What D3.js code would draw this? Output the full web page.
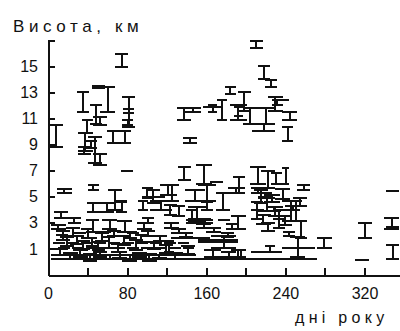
<!DOCTYPE html>
<html>
<head>
<meta charset="utf-8">
<script src="https://cdn.jsdelivr.net/npm/d3@7"></script>
<style>
  html, body { margin: 0; padding: 0; background: #fff; }
  svg { display: block; }
  text { font-family: "Liberation Sans", Arial, sans-serif; fill: #111; }
</style>
</head>
<body>
<div id="chart"></div>
<script>
// Cloud layers over the year: [day from, day to, base km, top km]
const highLayers = [
  [2, 15, 8.8, 10.5], [29, 41, 11.5, 13.0], [44, 58, 13.35, 13.45], [53, 68, 11.5, 13.4],
  [68, 81, 14.9, 15.9], [75, 88, 10.3, 12.6], [76, 87, 11.4, 11.7], [75, 86, 10.5, 10.9],
  [42, 55, 10.6, 12.0], [45, 60, 10.5, 11.1], [34, 45, 9.9, 10.9], [30, 45, 8.5, 9.9],
  [40, 55, 7.6, 9.6], [45, 60, 7.4, 8.3], [30, 43, 8.3, 8.8], [36, 50, 8.7, 9.3],
  [60, 72, 9.1, 10.0], [72, 84, 9.1, 10.0], [74, 86, 7.0, 7.0],
  [136, 151, 9.1, 9.5], [130, 145, 10.9, 11.8], [139, 155, 11.5, 11.8], [157, 175, 11.9, 11.9],
  [162, 171, 11.5, 12.0], [171, 181, 10.9, 12.4], [184, 201, 10.9, 12.0], [188, 197, 11.2, 11.9],
  [197, 212, 10.6, 11.8], [212, 228, 10.6, 11.8], [206, 230, 10.0, 10.6], [222, 238, 11.6, 12.6],
  [226, 238, 12.0, 12.4], [179, 190, 12.9, 13.4], [192, 205, 11.6, 13.0], [204, 217, 16.4, 16.9],
  [212, 224, 14.0, 15.0], [219, 232, 13.4, 13.9], [237, 252, 10.9, 11.5], [237, 244, 12.4, 12.4],
  [237, 248, 9.3, 10.3]
];

const midLayers = [
  [9, 24, 5.3, 5.6], [40, 52, 5.5, 5.9], [61, 75, 4.0, 5.5], [39, 52, 3.8, 4.5],
  [52, 67, 3.8, 4.5], [69, 80, 3.8, 4.7], [69, 80, 4.6, 4.7], [95, 106, 4.9, 5.7],
  [91, 101, 4.0, 4.7], [95, 118, 5.0, 5.0], [6, 20, 3.4, 3.8], [20, 33, 3.0, 3.4],
  [38, 52, 2.3, 3.2], [55, 70, 2.5, 3.2], [70, 85, 2.3, 3.1], [90, 105, 2.5, 3.0],
  [95, 107, 3.0, 3.4], [100, 113, 4.5, 5.5], [113, 130, 5.1, 5.9], [103, 125, 4.0, 4.7],
  [125, 139, 3.5, 4.3], [140, 152, 3.2, 4.0], [131, 145, 6.3, 7.3],
  [118, 132, 4.7, 5.9], [139, 159, 4.7, 5.5], [152, 170, 4.7, 5.9], [170, 184, 4.0, 5.3],
  [182, 199, 5.3, 5.7], [117, 130, 3.6, 4.4], [142, 160, 3.1, 4.2], [140, 167, 3.0, 3.2],
  [142, 165, 3.2, 3.3], [155, 167, 4.0, 4.6], [172, 184, 3.2, 3.2], [185, 200, 2.5, 3.5],
  [180, 192, 2.5, 2.9], [117, 132, 2.6, 3.0], [124, 140, 2.2, 2.5], [132, 147, 1.9, 2.2],
  [150, 166, 6.0, 7.4], [164, 177, 6.1, 6.1], [187, 199, 5.3, 6.5],
  [204, 220, 6.0, 7.3], [215, 230, 5.7, 7.0], [225, 237, 6.0, 6.8], [252, 265, 5.5, 5.9],
  [237, 244, 6.0, 7.2], [205, 220, 5.3, 5.7], [208, 222, 4.5, 5.5], [212, 230, 3.9, 4.9],
  [218, 235, 4.6, 5.1], [222, 238, 3.5, 4.2], [228, 240, 3.3, 4.0], [205, 218, 3.3, 4.0],
  [237, 254, 3.1, 4.7], [245, 257, 3.1, 4.7], [240, 255, 4.0, 4.3], [250, 262, 1.8, 3.1],
  [238, 250, 2.0, 2.3], [227, 240, 2.6, 3.3], [313, 328, 1.8, 3.0], [340, 355, 2.5, 3.4],
  [342, 355, 2.5, 2.7], [342, 355, 5.4, 5.4],
  [205, 217, 4.0, 4.6], [210, 225, 2.9, 3.6], [215, 230, 2.4, 3.0], [230, 245, 4.8, 5.6],
  [233, 247, 2.8, 3.5], [248, 262, 4.3, 4.9], [212, 226, 5.0, 5.3], [220, 236, 3.9, 4.2],
  [160, 175, 2.3, 2.6], [175, 188, 1.9, 2.2], [150, 165, 2.6, 2.9]
];

const lowLayers = [
  [3, 18, 2.5, 2.8], [8, 22, 1.7, 2.4], [12, 26, 1.2, 1.9], [18, 32, 2.0, 2.6],
  [22, 36, 1.4, 2.0], [28, 42, 1.0, 1.6], [33, 47, 1.8, 2.5], [38, 50, 1.2, 1.8],
  [44, 58, 0.9, 1.5], [48, 62, 1.6, 2.2], [55, 68, 1.1, 1.9], [60, 74, 2.0, 2.4],
  [64, 78, 0.8, 1.4], [70, 84, 1.3, 2.0], [76, 90, 1.8, 2.3], [82, 96, 0.9, 1.7],
  [88, 100, 1.5, 2.1], [94, 108, 2.0, 2.4], [100, 114, 1.0, 1.5], [106, 120, 1.6, 2.0],
  [112, 126, 0.7, 1.3], [5, 20, 0.5, 1.0], [15, 30, 0.2, 0.7], [25, 40, 0.4, 0.9],
  [35, 50, 0.1, 0.6], [45, 60, 0.4, 0.8], [55, 70, 0.2, 0.5], [65, 80, 0.3, 0.8],
  [75, 90, 0.1, 0.5], [85, 100, 0.4, 0.7], [95, 110, 0.1, 0.6], [105, 120, 0.3, 0.5],
  [120, 136, 0.2, 0.7], [3, 150, 0.5, 0.5], [3, 272, 0.2, 0.2],
  [5, 17, 1.45, 1.45], [19, 31, 1.45, 1.45], [33, 45, 1.45, 1.45], [47, 59, 1.45, 1.45],
  [61, 73, 1.45, 1.45], [75, 87, 1.45, 1.45], [89, 101, 1.45, 1.45], [103, 115, 1.45, 1.45],
  [117, 129, 1.45, 1.45], [131, 143, 1.45, 1.45],
  [10, 22, 1.05, 1.05], [24, 36, 1.05, 1.05], [38, 50, 1.05, 1.05], [52, 64, 1.05, 1.05],
  [66, 78, 1.05, 1.05], [80, 92, 1.05, 1.05], [94, 106, 1.05, 1.05], [108, 120, 1.05, 1.05],
  [122, 134, 1.05, 1.05], [136, 148, 1.05, 1.05],
  [8, 20, 2.1, 2.1], [26, 38, 2.2, 2.2], [52, 64, 2.3, 2.3], [80, 92, 2.2, 2.2],
  [117, 127, 0.8, 1.6], [134, 149, 0.6, 1.2], [124, 164, 1.8, 1.8], [165, 190, 1.1, 2.0],
  [152, 192, 1.5, 1.7], [158, 175, 0.4, 0.9], [175, 190, 0.4, 0.8], [190, 200, 0.4, 0.9],
  [185, 200, 0.4, 0.9], [205, 237, 0.8, 0.8], [219, 230, 0.8, 1.2], [245, 260, 0.4, 1.9],
  [237, 270, 1.1, 1.1], [272, 287, 1.1, 1.8], [310, 325, 0.15, 0.15], [342, 355, 0.2, 1.3]
];

const yTicks = [1, 3, 5, 7, 9, 11, 13, 15, 17];
const yLabels = [1, 3, 5, 7, 9, 11, 13, 15];
const xTicks = [0, 40, 80, 120, 160, 200, 240, 280, 320, 360];
const xLabels = [0, 80, 160, 240, 320];

const W = 400, H = 331;
const svg = d3.select('#chart').append('svg').attr('width', W).attr('height', H);

const x = d3.scaleLinear().domain([0, 365]).range([48, 409]);
const y = d3.scaleLinear().domain([-1, 17]).range([275, 40]);

svg.append('text').attr('x', 13).attr('y', 32)
  .style('font-size', '17px').style('letter-spacing', '4.6px')
  .text('Висота, км');

svg.append('text').attr('x', 295).attr('y', 323)
  .style('font-size', '16px').style('letter-spacing', '4.3px')
  .text('дні року');

svg.append('g').attr('transform', `translate(${x(0)},0)`)
  .call(d3.axisLeft(y).tickValues(yTicks).tickSize(-7).tickSizeOuter(0).tickPadding(10)
    .tickFormat((d) => (yLabels.includes(d) ? d : '')));

svg.append('g').attr('transform', `translate(0,${y(-1)})`)
  .call(d3.axisBottom(x).tickValues(xTicks).tickSize(-7).tickSizeOuter(0).tickPadding(13)
    .tickFormat((d) => (xLabels.includes(d) ? d : '')));

svg.selectAll('.domain, .tick line')
  .attr('stroke', '#111').attr('stroke-width', 2).attr('shape-rendering', 'crispEdges');
svg.selectAll('.tick text')
  .style('font-family', '"Liberation Sans", Arial, sans-serif')
  .style('font-size', '16px').attr('fill', '#111');

const layers = highLayers.concat(midLayers, lowLayers);
const marks = svg.append('g').attr('stroke', '#111').attr('stroke-width', 2)
  .attr('shape-rendering', 'crispEdges');

layers.forEach(([d0, d1, lo, hi]) => {
  const xm = x((d0 + d1) / 2);
  if (hi > lo) {
    marks.append('line').attr('x1', xm).attr('x2', xm).attr('y1', y(lo)).attr('y2', y(hi));
    marks.append('line').attr('x1', x(d0)).attr('x2', x(d1)).attr('y1', y(hi)).attr('y2', y(hi));
  }
  marks.append('line').attr('x1', x(d0)).attr('x2', x(d1)).attr('y1', y(lo)).attr('y2', y(lo));
});
</script>
</body>
</html>
